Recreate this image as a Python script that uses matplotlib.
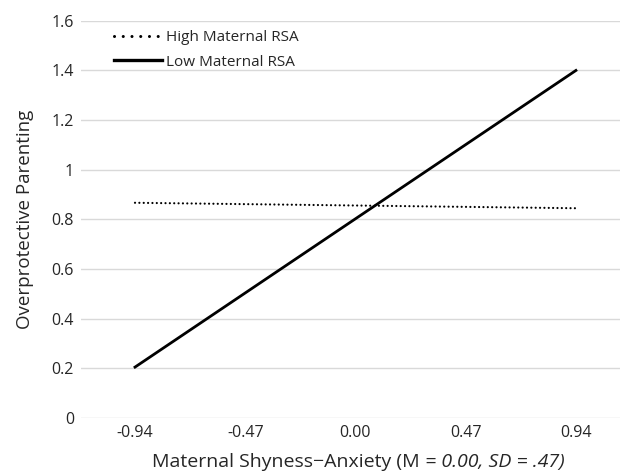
import matplotlib
matplotlib.use("Agg")
import matplotlib.pyplot as plt
from matplotlib.lines import Line2D
from matplotlib.offsetbox import TextArea, HPacker, AnchoredOffsetbox

plt.rcParams['font.family'] = ['Open Sans', 'DejaVu Sans']

categories = ["-0.94", "-0.47", "0.00", "0.47", "0.94"]
series_names = ["High Maternal RSA", "Low Maternal RSA"]
high_rsa = [0.867, 0.845]   # at first and last category
low_rsa = [0.205, 1.400]
yticks = [0, 0.2, 0.4, 0.6, 0.8, 1, 1.2, 1.4, 1.6]
ytick_labels = ["0", "0.2", "0.4", "0.6", "0.8", "1", "1.2", "1.4", "1.6"]

TXT = "#262626"
fig = plt.figure(figsize=(6.25, 4.73), dpi=100)
ax = fig.add_axes([0.1296, 0.1163, 0.992 - 0.1296, 0.956 - 0.1163])

xpos = list(range(len(categories)))
ends = [xpos[0], xpos[-1]]
ax.plot(ends, high_rsa, color="black", lw=1.6, linestyle=(0, (0.01, 1.95)),
        dash_capstyle="round")
ax.plot(ends, low_rsa, color="black", lw=2.0)

ax.set_xlim(-0.49, 4.40)
ax.set_ylim(0, 1.6)
ax.set_yticks(yticks)
ax.set_yticklabels(ytick_labels)
ax.set_xticks(xpos)
ax.set_xticklabels(categories)
ax.tick_params(axis="both", length=0, labelsize=11.5, colors=TXT)
ax.tick_params(axis="y", pad=5)
ax.tick_params(axis="x", pad=5)
for s in ax.spines.values():
    s.set_visible(False)
ax.grid(axis="y", color="#d9d9d9", lw=1)
ax.set_axisbelow(True)

ax.set_ylabel("Overprotective Parenting", fontsize=13.5, color=TXT, labelpad=13)

# x-axis label with mixed italic
t1 = TextArea("Maternal Shyness\u2212Anxiety (M", textprops=dict(fontsize=14, color=TXT))
t2 = TextArea(" = 0.00, SD = .47)", textprops=dict(fontsize=14, color=TXT, style="italic"))
box = HPacker(children=[t1, t2], align="baseline", pad=0, sep=0)
anch = AnchoredOffsetbox(loc="center", child=box, pad=0, frameon=False,
                         bbox_to_anchor=(358 / 625, 1 - 462 / 473),
                         bbox_transform=fig.transFigure, borderpad=0)
fig.add_artist(anch)

handles = [Line2D([], [], color="black", lw=2.2, linestyle=(0, (0.01, 2.85)),
                  dash_capstyle="round"),
           Line2D([], [], color="black", lw=2.4)]
leg = ax.legend(handles, series_names, loc="upper left",
                bbox_to_anchor=(31 / 539, 1.0 - 8 / 397), frameon=False,
                fontsize=11, handlelength=3.2, handletextpad=0.25,
                labelspacing=0.62, borderaxespad=0.0, borderpad=0.1)
for t in leg.get_texts():
    t.set_color(TXT)

fig.savefig("out.png", dpi=100)
